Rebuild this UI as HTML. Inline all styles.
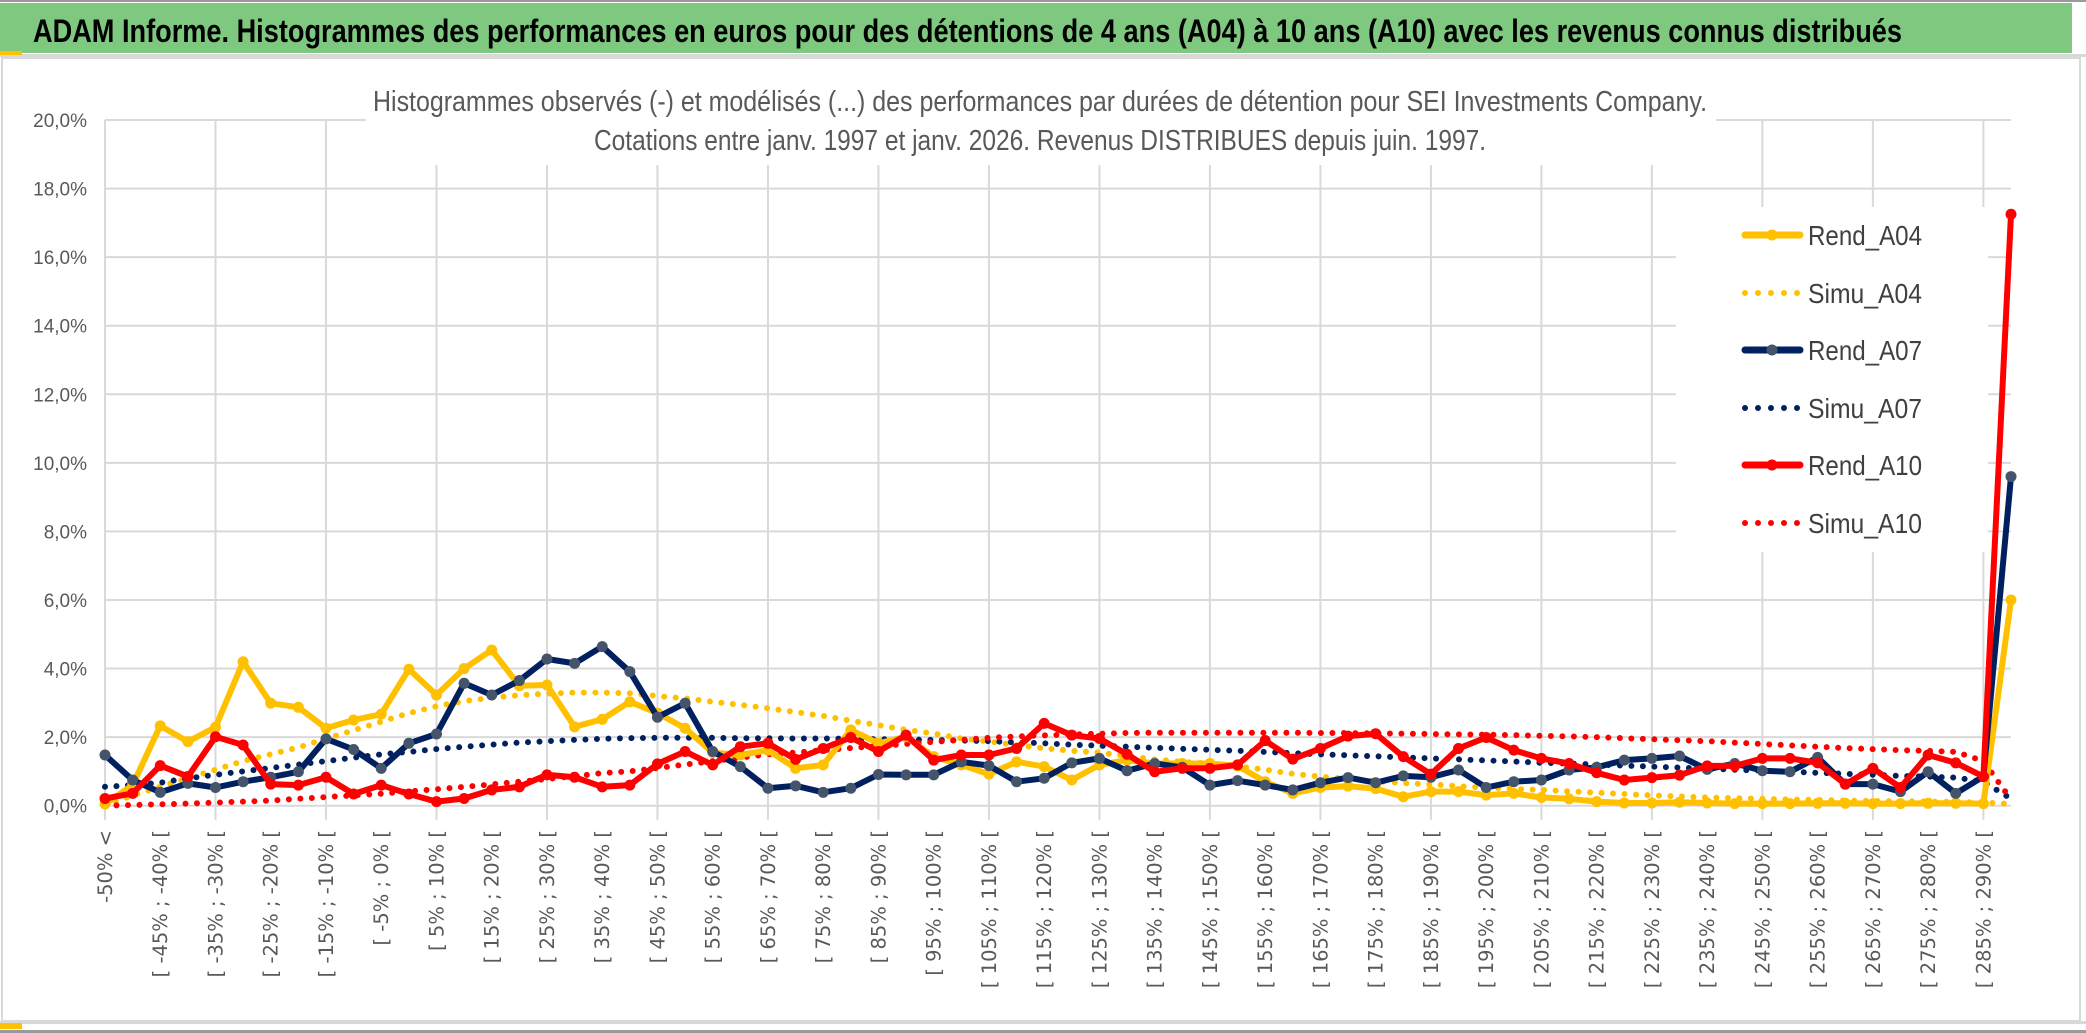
<!DOCTYPE html>
<html><head><meta charset="utf-8">
<style>
html,body{margin:0;padding:0;background:#fff;}
svg{display:block;}
</style></head>
<body>
<svg id="chart" xmlns="http://www.w3.org/2000/svg" width="2086" height="1033" viewBox="0 0 2086 1033">
  <rect x="0" y="0" width="2086" height="1033" fill="#fff"/>
  <rect x="0" y="0" width="2086" height="2" fill="#9a9a9a"/>
  <rect x="0" y="3" width="2072" height="50" fill="#7ec87f"/>
  <rect x="0" y="54" width="2086" height="3" fill="#d8d8d8"/>
  <rect x="0" y="51" width="22" height="4" fill="#ffc000"/>
  <text x="33" y="42" font-family="Liberation Sans, sans-serif" font-weight="bold" font-size="32" fill="#000" textLength="1869" lengthAdjust="spacingAndGlyphs">ADAM Informe. Histogrammes des performances en euros pour des détentions de 4 ans (A04) à 10 ans (A10) avec les revenus connus distribués</text>
  <rect x="2" y="58" width="2078" height="963" fill="none" stroke="#d9d9d9" stroke-width="2"/>
  <rect x="0" y="1021" width="2086" height="3" fill="#d8d8d8"/>
  <rect x="0" y="1030" width="2086" height="3" fill="#9a9a9a"/>
  <rect x="0" y="1023" width="22" height="6" fill="#ffc000"/>
  <g id="grid"></g>
  <rect x="366" y="70" width="1350" height="95" fill="#fff"/>
  <text x="373" y="111" font-family="Liberation Sans, sans-serif" font-size="29" fill="#595959" textLength="1334" lengthAdjust="spacingAndGlyphs">Histogrammes observés (-) et modélisés (...) des performances par durées de détention pour SEI Investments Company.</text>
  <text x="594" y="150" font-family="Liberation Sans, sans-serif" font-size="29" fill="#595959" textLength="892" lengthAdjust="spacingAndGlyphs">Cotations entre janv. 1997 et janv. 2026. Revenus DISTRIBUES depuis juin. 1997.</text>
  <g id="yaxis"></g>
  <g id="xaxis"></g>
  <rect x="1676" y="207" width="312" height="345" fill="#fff"/>
  <g id="series"></g>
  <g id="legend"></g>
</svg>
<script>
const categories = ["-50% <","[ -50% ; -45% [","[ -45% ; -40% [","[ -40% ; -35% [","[ -35% ; -30% [","[ -30% ; -25% [","[ -25% ; -20% [","[ -20% ; -15% [","[ -15% ; -10% [","[ -10% ; -5% [","[ -5% ; 0% [","[ 0% ; 5% [","[ 5% ; 10% [","[ 10% ; 15% [","[ 15% ; 20% [","[ 20% ; 25% [","[ 25% ; 30% [","[ 30% ; 35% [","[ 35% ; 40% [","[ 40% ; 45% [","[ 45% ; 50% [","[ 50% ; 55% [","[ 55% ; 60% [","[ 60% ; 65% [","[ 65% ; 70% [","[ 70% ; 75% [","[ 75% ; 80% [","[ 80% ; 85% [","[ 85% ; 90% [","[ 90% ; 95% [","[ 95% ; 100% [","[ 100% ; 105% [","[ 105% ; 110% [","[ 110% ; 115% [","[ 115% ; 120% [","[ 120% ; 125% [","[ 125% ; 130% [","[ 130% ; 135% [","[ 135% ; 140% [","[ 140% ; 145% [","[ 145% ; 150% [","[ 150% ; 155% [","[ 155% ; 160% [","[ 160% ; 165% [","[ 165% ; 170% [","[ 170% ; 175% [","[ 175% ; 180% [","[ 180% ; 185% [","[ 185% ; 190% [","[ 190% ; 195% [","[ 195% ; 200% [","[ 200% ; 205% [","[ 205% ; 210% [","[ 210% ; 215% [","[ 215% ; 220% [","[ 220% ; 225% [","[ 225% ; 230% [","[ 230% ; 235% [","[ 235% ; 240% [","[ 240% ; 245% [","[ 245% ; 250% [","[ 250% ; 255% [","[ 255% ; 260% [","[ 260% ; 265% [","[ 265% ; 270% [","[ 270% ; 275% [","[ 275% ; 280% [","[ 280% ; 285% [","[ 285% ; 290% [","> 290%"];
const yTicks = [0,2,4,6,8,10,12,14,16,18,20];
const yTickLabels = ["0,0%","2,0%","4,0%","6,0%","8,0%","10,0%","12,0%","14,0%","16,0%","18,0%","20,0%"];
const rendA04 = [0.05,0.6,2.33,1.87,2.29,4.2,2.99,2.87,2.26,2.5,2.67,3.98,3.23,4.0,4.54,3.5,3.52,2.3,2.52,3.03,2.7,2.26,1.55,1.48,1.62,1.09,1.19,2.21,1.82,2.01,1.43,1.19,0.92,1.28,1.14,0.75,1.19,1.33,1.23,1.23,1.23,1.16,0.7,0.36,0.53,0.57,0.5,0.26,0.41,0.41,0.31,0.36,0.24,0.2,0.12,0.08,0.08,0.1,0.08,0.06,0.06,0.06,0.07,0.07,0.06,0.06,0.07,0.07,0.06,6.0];
const simuA04 = [0.0,0.3,0.55,0.8,1.05,1.3,1.5,1.7,1.95,2.2,2.45,2.7,2.9,3.05,3.15,3.22,3.27,3.3,3.3,3.28,3.2,3.13,3.03,2.94,2.84,2.73,2.62,2.48,2.35,2.21,2.11,1.96,1.87,1.77,1.67,1.6,1.55,1.45,1.35,1.28,1.23,1.15,1.05,0.93,0.85,0.78,0.72,0.66,0.62,0.57,0.53,0.49,0.46,0.42,0.38,0.34,0.3,0.27,0.24,0.22,0.2,0.18,0.17,0.15,0.14,0.13,0.12,0.11,0.09,0.05];
const rendA07 = [1.48,0.75,0.39,0.65,0.53,0.7,0.83,0.99,1.95,1.64,1.09,1.82,2.09,3.57,3.23,3.65,4.28,4.15,4.64,3.91,2.58,2.99,1.58,1.14,0.51,0.58,0.39,0.51,0.91,0.9,0.9,1.28,1.17,0.7,0.8,1.25,1.38,1.02,1.23,1.12,0.6,0.73,0.6,0.46,0.67,0.82,0.67,0.87,0.83,1.04,0.53,0.7,0.75,1.04,1.12,1.33,1.38,1.45,1.06,1.23,1.02,0.99,1.41,0.63,0.63,0.41,0.99,0.36,0.85,9.6];
const simuA07 = [0.55,0.6,0.67,0.8,0.9,1.0,1.1,1.2,1.3,1.4,1.5,1.57,1.65,1.72,1.78,1.84,1.88,1.92,1.95,1.97,1.98,1.98,1.98,1.97,1.97,1.96,1.96,1.95,1.94,1.93,1.92,1.9,1.88,1.85,1.82,1.78,1.75,1.72,1.69,1.66,1.63,1.6,1.57,1.53,1.5,1.47,1.44,1.41,1.38,1.35,1.32,1.29,1.25,1.23,1.2,1.17,1.14,1.11,1.08,1.05,1.02,0.99,0.96,0.93,0.9,0.87,0.85,0.82,0.7,0.2];
const rendA10 = [0.21,0.36,1.17,0.85,2.01,1.77,0.63,0.6,0.83,0.34,0.6,0.34,0.12,0.21,0.46,0.55,0.9,0.83,0.55,0.6,1.22,1.58,1.19,1.72,1.82,1.35,1.67,1.99,1.58,2.06,1.33,1.48,1.48,1.67,2.4,2.06,1.96,1.5,0.99,1.09,1.09,1.19,1.9,1.36,1.67,2.03,2.1,1.43,0.92,1.67,1.99,1.62,1.38,1.23,0.96,0.75,0.82,0.89,1.16,1.16,1.38,1.38,1.25,0.63,1.09,0.53,1.48,1.25,0.85,17.25];
const simuA10 = [0.0,0.02,0.04,0.06,0.09,0.12,0.15,0.2,0.25,0.3,0.35,0.42,0.48,0.55,0.62,0.7,0.78,0.86,0.95,1.0,1.1,1.2,1.3,1.4,1.5,1.55,1.62,1.68,1.74,1.8,1.86,1.92,1.98,2.02,2.05,2.08,2.1,2.12,2.13,2.13,2.13,2.13,2.13,2.13,2.12,2.12,2.11,2.1,2.09,2.08,2.07,2.06,2.04,2.02,2.0,1.97,1.94,1.91,1.88,1.84,1.8,1.76,1.72,1.68,1.65,1.62,1.6,1.57,1.3,0.18];

const NS = "http://www.w3.org/2000/svg";
const X0 = 105, X1 = 2011, Y0 = 805.7, YTOP = 120;
function xScale(i){ return X0 + i * (X1 - X0) / (categories.length - 1); }
function yScale(v){ return Y0 - v * (Y0 - YTOP) / 20; }
function mk(tag, attrs, parent){
  const e = document.createElementNS(NS, tag);
  for (const k in attrs) e.setAttribute(k, attrs[k]);
  parent.appendChild(e);
  return e;
}
const grid = document.getElementById('grid');
yTicks.forEach(function(t){
  const l = mk('line', {x1:X0, x2:X1, y1:yScale(t), y2:yScale(t), stroke:'#d9d9d9', 'stroke-width':2}, grid);
  
  
});
for (let i = 0; i < categories.length; i += 4){
  const l = mk('line', {x1:xScale(i), x2:xScale(i), y1:YTOP, y2:Y0+14, stroke:'#d9d9d9', 'stroke-width':2}, grid);
  
  
}
const yaxis = document.getElementById('yaxis');
yTicks.forEach(function(t, k){
  const tx = mk('text', {x:87, y:yScale(t)+7, 'text-anchor':'end', 'font-family':'Liberation Sans, sans-serif', 'font-size':19, fill:'#595959'}, yaxis);
  tx.textContent = yTickLabels[k];
  
  
});
const xaxis = document.getElementById('xaxis');
for (let i = 0; i < categories.length - 1; i += 2){
  const x = xScale(i) + 7, y = 830;
  const tx = mk('text', {x:x, y:y, 'text-anchor':'end', transform:'rotate(-90 '+x+' '+y+')', 'font-family':'DejaVu Sans, sans-serif', 'font-size':19.5, fill:'#595959'}, xaxis);
  tx.textContent = categories[i];
  
  
}
const seriesG = document.getElementById('series');
function pts(arr){ return arr.map(function(v,i){ return xScale(i).toFixed(1)+','+yScale(v).toFixed(1); }).join(' '); }
function dotted(arr, color, name){
  const p = mk('polyline', {points:pts(arr), fill:'none', stroke:color, 'stroke-width':6, 'stroke-dasharray':'0 11.5', 'stroke-linecap':'round'}, seriesG);
  
  
}
function solid(arr, color, mcolor, name){
  const g = mk('g', {}, seriesG);
  
  
  mk('polyline', {points:pts(arr), fill:'none', stroke:color, 'stroke-width':6, 'stroke-linejoin':'round'}, g);
  arr.forEach(function(v,i){
    const c = mk('circle', {cx:xScale(i), cy:yScale(v), r:5.5, fill:mcolor}, g);
    
    
  });
}
dotted(simuA04, '#ffc000', 'simu-a04-line');
dotted(simuA07, '#002060', 'simu-a07-line');
dotted(simuA10, '#ff0000', 'simu-a10-line');
solid(rendA04, '#ffc000', '#ffc000', 'rend-a04-line');
solid(rendA07, '#002060', '#44546a', 'rend-a07-line');
solid(rendA10, '#ff0000', '#ff0000', 'rend-a10-line');

const legendNames = ["Rend_A04","Simu_A04","Rend_A07","Simu_A07","Rend_A10","Simu_A10"];
const legendColors = ['#ffc000','#ffc000','#002060','#002060','#ff0000','#ff0000'];
const legendMarker = ['#ffc000','','#44546a','','#ff0000',''];
const legendY = [235,293,350,408,465,523];
const lg = document.getElementById('legend');
legendNames.forEach(function(n,k){
  const g = mk('g', {}, lg);
  
  
  const y = legendY[k];
  if (legendMarker[k]) {
    mk('line', {x1:1745, x2:1800, y1:y, y2:y, stroke:legendColors[k], 'stroke-width':7, 'stroke-linecap':'round'}, g);
    mk('circle', {cx:1772, cy:y, r:5.5, fill:legendMarker[k]}, g);
  } else {
    mk('line', {x1:1745, x2:1800, y1:y, y2:y, stroke:legendColors[k], 'stroke-width':6, 'stroke-dasharray':'0 13', 'stroke-linecap':'round'}, g);
  }
  const t = mk('text', {x:1808, y:y+10, 'font-family':'Liberation Sans, sans-serif', 'font-size':28, fill:'#404040', textLength:114, lengthAdjust:'spacingAndGlyphs'}, g);
  t.textContent = n;
});
</script>
</body></html>
